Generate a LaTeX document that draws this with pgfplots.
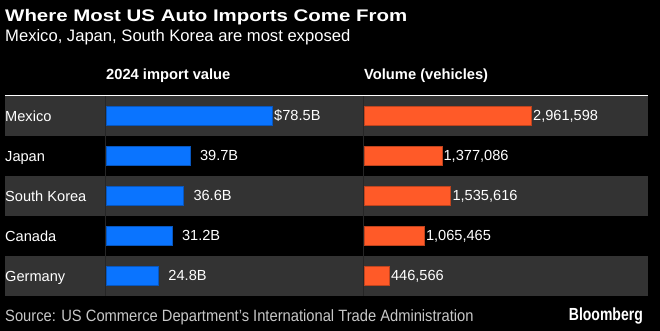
\documentclass[border=0pt]{standalone}
\usepackage{pgfplots}
\pgfplotsset{compat=1.18}
\usepackage{pgfplotstable}
\usepackage{graphicx}
\usepackage{fontspec}
\setmainfont{Liberation Sans}
\definecolor{bblue}{HTML}{0A74FF}
\definecolor{borange}{HTML}{FF5A28}
\definecolor{rowgrey}{HTML}{333333}
\definecolor{srcgrey}{HTML}{C8C8C8}

\pgfplotstableread{
x y
78.5 0
}\valmex
\pgfplotstableread{
x y
39.7 1
36.6 2
31.2 3
24.8 4
}\valrest
\pgfplotstableread{
x y lab
2961598 0 2,961,598
1377086 1 1,377,086
1535616 2 1,535,616
1065465 3 1,065,465
446566 4 446,566
}\voltable

\newcommand{\tabfont}{\fontsize{14.6}{17}\selectfont}

\begin{document}
\begin{tikzpicture}[x=1pt,y=1pt]
\path[use as bounding box, fill=black] (0,0) rectangle (660,331);
% title
\node[anchor=base west, inner sep=0, text=white] at (5,309) {\scalebox{1.217}[1]{\fontsize{16.8}{20}\selectfont\bfseries Where Most US Auto Imports Come From}};
\node[anchor=base west, inner sep=0, text=white] at (5,289) {\fontsize{16.6}{19}\selectfont Mexico, Japan, South Korea are most exposed};
% headers
\node[anchor=base west, inner sep=0, text=white] at (106,251.7) {\fontsize{14.7}{17}\selectfont\bfseries 2024 import value};
\node[anchor=base west, inner sep=0, text=white] at (364,251.7) {\fontsize{14.7}{17}\selectfont\bfseries Volume (vehicles)};
% rows
\foreach \i in {0,2,4} {
  \fill[rowgrey] (5,{331-96-40*\i}) rectangle (648,{331-136-40*\i});
}
\draw[white, line width=1.5pt] (5,235.5) -- (648,235.5);
\draw[black!85!white, line width=1pt] (105.3,35) -- (105.3,234.8);
\draw[black!85!white, line width=1pt] (363.5,35) -- (363.5,234.8);
\foreach \lab [count=\i from 0] in {Mexico,Japan,South Korea,Canada,Germany} {
  \node[anchor=base west, inner sep=0, text=white] at (5,{331-116-40*\i-5.2}) {\tabfont \lab};
}
% blue bars
\begin{axis}[at={(106pt,35pt)}, anchor=south west, scale only axis,
  width=212pt, height=200pt, xmin=0, xmax=100, ymin=-0.5, ymax=4.5,
  y dir=reverse, hide axis, clip=false,
  xbar, bar width=19pt, bar shift=0pt,
  point meta=x,
  /pgf/number format/assume math mode=true,
  nodes near coords style={font=\tabfont, text=white, anchor=west, inner xsep=1.5pt}]
\addplot[fill=bblue, draw=bblue!75!black, line width=0.6pt,
  nodes near coords={\$\pgfmathprintnumber[assume math mode=true,fixed,fixed zerofill,precision=1]{\pgfplotspointmeta}B}]
  table[x=x,y=y] {\valmex};
\addplot[fill=bblue, draw=bblue!75!black, line width=0.6pt,
  nodes near coords={\phantom{\$}\pgfmathprintnumber[assume math mode=true,fixed,fixed zerofill,precision=1]{\pgfplotspointmeta}B}]
  table[x=x,y=y] {\valrest};
\end{axis}
% orange bars
\begin{axis}[at={(364pt,35pt)}, anchor=south west, scale only axis,
  width=169.5pt, height=200pt, xmin=0, xmax=3000000, ymin=-0.5, ymax=4.5,
  y dir=reverse, hide axis, clip=false,
  xbar, bar width=19pt, bar shift=0pt,
  point meta=explicit symbolic,
  nodes near coords,
  nodes near coords style={font=\tabfont, text=white, anchor=west, inner xsep=1.5pt}]
\addplot[fill=borange, draw=borange!75!black, line width=0.6pt]
  table[x=x,y=y,meta=lab] {\voltable};
\end{axis}
% footer
\node[anchor=base west, inner sep=0, text=srcgrey] at (5,9.3) {\scalebox{0.9}[1]{\fontsize{16.35}{19}\selectfont Source: US Commerce Department’s International Trade Administration}};
\node[anchor=base east, inner sep=0, text=white] at (643,10) {\scalebox{0.8}[1]{\fontsize{17.5}{20}\selectfont\bfseries Bloomberg}};
\end{tikzpicture}
\end{document}
